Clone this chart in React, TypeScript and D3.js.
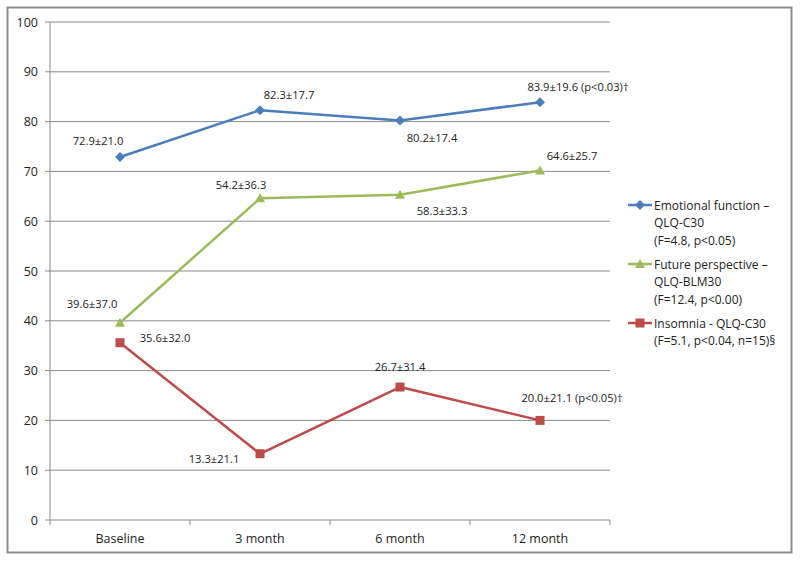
import React from "react";
import * as d3 from "d3";

const categories = ["Baseline", "3 month", "6 month", "12 month"];
const yTicks = [0, 10, 20, 30, 40, 50, 60, 70, 80, 90, 100];

const emotionalValues = [72.9, 82.3, 80.2, 83.9];
const futureValues = [39.6, 64.6, 65.3, 70.2];
const insomniaValues = [35.6, 13.3, 26.7, 20.0];

const emotionalLabels = ["72.9±21.0", "82.3±17.7", "80.2±17.4", "83.9±19.6 (p<0.03)†"];
const futureLabels = ["39.6±37.0", "54.2±36.3", "58.3±33.3", "64.6±25.7"];
const insomniaLabels = ["35.6±32.0", "13.3±21.1", "26.7±31.4", "20.0±21.1 (p<0.05)†"];

const emotionalLegend = ["Emotional function –", "QLQ-C30", "(F=4.8, p<0.05)"];
const futureLegend = ["Future perspective –", "QLQ-BLM30", "(F=12.4, p<0.00)"];
const insomniaLegend = ["Insomnia - QLQ-C30", "(F=5.1, p<0.04, n=15)§"];

const FONT = "'Open Sans', 'Liberation Sans', sans-serif";

type Series = {
  values: number[];
  labels: string[];
  legend: string[];
  color: string;
  marker: "diamond" | "triangle" | "square";
  offsets: [number, number][];
  legendY: number;
};

const series: Series[] = [
  {
    values: emotionalValues,
    labels: emotionalLabels,
    legend: emotionalLegend,
    color: "#4A7EBB",
    marker: "diamond",
    offsets: [[-22, -16], [29, -16], [32, 17], [38, -16]],
    legendY: 205,
  },
  {
    values: futureValues,
    labels: futureLabels,
    legend: futureLegend,
    color: "#9BBB59",
    marker: "triangle",
    offsets: [[-28, -19], [-19, -14], [42, 16], [32, -15]],
    legendY: 264,
  },
  {
    values: insomniaValues,
    labels: insomniaLabels,
    legend: insomniaLegend,
    color: "#BE4B48",
    marker: "square",
    offsets: [[45, -5], [-46, 5], [0, -21], [32, -23]],
    legendY: 323,
  },
];

function Marker({ type, x, y, color }: { type: string; x: number; y: number; color: string }) {
  if (type === "diamond") {
    const s = 5;
    return <path d={`M${x},${y - s}L${x + s},${y}L${x},${y + s}L${x - s},${y}Z`} fill={color} />;
  }
  if (type === "triangle") {
    const s = 5;
    return <path d={`M${x},${y - s}L${x + s},${y + s - 1}L${x - s},${y + s - 1}Z`} fill={color} />;
  }
  return <rect x={x - 4.5} y={y - 4.5} width={9} height={9} fill={color} />;
}

export default function App() {
  const width = 800;
  const height = 562;
  const x = d3.scaleBand<string>().domain(categories).range([50, 610]).padding(0);
  const y = d3.scaleLinear().domain([0, 100]).range([520, 22]);
  const cx = (c: string) => (x(c) as number) + x.bandwidth() / 2;
  const line = d3
    .line<number>()
    .x((_, i) => cx(categories[i]))
    .y((d) => y(d));
  const boundaries = [...categories.map((c) => x(c) as number), 610];

  return (
    <svg
      width={width}
      height={height}
      style={{ position: "absolute", left: 0, top: 0, fontFamily: FONT }}
    >
      <rect x={0} y={0} width={width} height={height} fill="#fff" />
      <rect x={7.5} y={7.5} width={784} height={545} fill="none" stroke="#8C8C8C" strokeWidth={2} />
      {yTicks.map((t) => (
        <g key={t}>
          <line x1={50} x2={610} y1={y(t)} y2={y(t)} stroke="#8A8A8A" strokeWidth={1} />
          <line x1={45} x2={50} y1={y(t)} y2={y(t)} stroke="#8A8A8A" strokeWidth={1} />
          <text x={38} y={y(t)} textAnchor="end" dominantBaseline="central" fontSize={12.5} fill="#222">
            {t}
          </text>
        </g>
      ))}
      <line x1={50} x2={50} y1={22} y2={520} stroke="#8A8A8A" strokeWidth={1} />
      {boundaries.map((b, i) => (
        <line key={i} x1={b} x2={b} y1={520} y2={525} stroke="#8A8A8A" strokeWidth={1} />
      ))}
      {categories.map((c) => (
        <text key={c} x={cx(c)} y={538} textAnchor="middle" dominantBaseline="central" fontSize={12.5} fill="#222">
          {c}
        </text>
      ))}
      {series.map((s, si) => (
        <g key={si}>
          <path d={line(s.values) || ""} fill="none" stroke={s.color} strokeWidth={2.5} strokeLinejoin="round" />
          {s.values.map((v, i) => (
            <Marker key={i} type={s.marker} x={cx(categories[i])} y={y(v)} color={s.color} />
          ))}
          {s.labels.map((l, i) => (
            <text
              key={i}
              x={cx(categories[i]) + s.offsets[i][0]}
              y={y(s.values[i]) + s.offsets[i][1]}
              textAnchor="middle"
              dominantBaseline="central"
              fontSize={11.2}
              fill="#222"
            >
              {l}
            </text>
          ))}
          <line x1={628} x2={652} y1={s.legendY} y2={s.legendY} stroke={s.color} strokeWidth={2.5} />
          <Marker type={s.marker} x={640} y={s.legendY} color={s.color} />
          {s.legend.map((t, j) => (
            <text key={j} x={654} y={s.legendY + j * 17.5} dominantBaseline="central" fontSize={12} fill="#222">
              {t}
            </text>
          ))}
        </g>
      ))}
    </svg>
  );
}
